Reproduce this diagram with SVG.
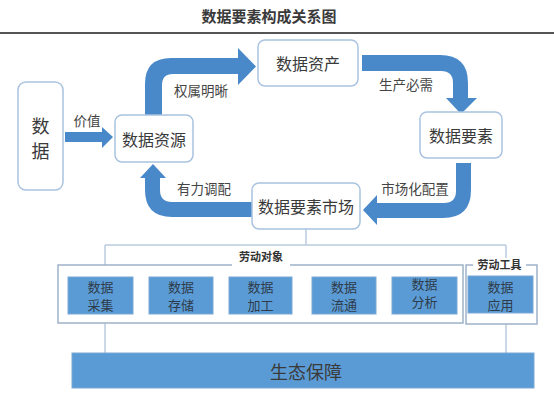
<svg xmlns="http://www.w3.org/2000/svg" width="554" height="403" viewBox="0 0 554 403">
<style>
text{font-family:"Noto Sans CJK SC","Liberation Sans",sans-serif;fill:#3a3a3a}
.node{fill:#fff;stroke:#a9c3df;stroke-width:1.5}
.t{font-size:16px;text-anchor:middle;dominant-baseline:central}
.lbl{font-size:13.5px;text-anchor:middle;dominant-baseline:central;fill:#444}
.arrow{fill:#4a89c9}
.conn{fill:none;stroke:#b9cbe0;stroke-width:1.5}
.frame{fill:none;stroke:#9fb3c8;stroke-width:1.5}
.blk{fill:#5b9bd5;stroke:#7aa7d6;stroke-width:1}
.bt{font-size:13px;text-anchor:middle;dominant-baseline:central;fill:#2e3b4a}
.leg{font-size:11px;font-weight:bold;text-anchor:middle;dominant-baseline:central;fill:#333}
</style>
<rect width="554" height="403" fill="#fff"/>
<g id="title">
<text x="269" y="15" font-size="15" font-weight="bold" text-anchor="middle" dominant-baseline="central" fill="#111">数据要素构成关系图</text>
<line x1="0" y1="33" x2="554" y2="33" stroke="#555" stroke-width="2"/>
</g>
<g id="connectors">
<path class="arrow" d="M65,132 L102,132 L102,127 L113,137 L102,148 L102,142 L65,142 Z"/>
<path class="arrow" d="M145,116 L145,84 Q145,58 171,58 L238,58 L238,48 L256,66.5 L238,85 L238,74 L173,74 Q162,74 162,85 L162,116 Z"/>
<path class="arrow" d="M362,55 L440,55 Q468,55 468,83 L468,98 L477,98 L461,114 L446,98 L453,98 L453,83 Q453,71 441,71 L362,71 Z"/>
<path class="arrow" d="M456,163 L471,163 L471,190 Q471,218 443,218 L377,218 L377,225 L363,210 L377,195 L377,203 L444,203 Q456,203 456,191 Z"/>
<path class="arrow" d="M252,202 L252,217 L172,217 Q145,217 145,190 L145,178 L140,178 L153,164 L166,178 L160,178 L160,190 Q160,202 172,202 Z"/>
<text class="lbl" x="87" y="120">价值</text>
<text class="lbl" x="201" y="90">权属明晰</text>
<text class="lbl" x="406" y="84">生产必需</text>
<text class="lbl" x="415" y="188">市场化配置</text>
<text class="lbl" x="204" y="188">有力调配</text>
<path class="conn" d="M306,229 V245 M105,245 H506 M105,245 V265 M506,245 V258 M105,323 V353 M506,324 V353"/>
</g>
<g id="n-data"><rect class="node" x="18" y="82" width="45" height="108" rx="8"/><text x="40.5" y="124.5" font-size="18" text-anchor="middle" dominant-baseline="central">数</text><text x="40.5" y="149.5" font-size="18" text-anchor="middle" dominant-baseline="central">据</text></g>
<g id="n-resource"><rect class="node" x="115" y="115" width="78" height="47" rx="7"/><text class="t" x="154" y="138.5">数据资源</text></g>
<g id="n-asset"><rect class="node" x="258" y="40" width="100" height="46" rx="7"/><text class="t" x="308" y="63">数据资产</text></g>
<g id="n-element"><rect class="node" x="420" y="112" width="82" height="46" rx="7"/><text class="t" x="461" y="135">数据要素</text></g>
<g id="n-market"><rect class="node" x="252" y="183" width="108" height="46" rx="7"/><text class="t" x="306" y="206">数据要素市场</text></g>
<g id="g-object">
<path class="frame" d="M232,265 H58 V323 H463 V265 H290"/>
<text class="leg" x="261" y="256">劳动对象</text>
</g>
<g id="g-tool">
<path class="frame" d="M473,265 H466 V324 H537 V265 H526"/>
<text class="leg" x="499.5" y="264">劳动工具</text>
</g>
<g id="b1"><rect class="blk" x="68" y="277" width="65" height="37"/><text class="bt" x="100.5" y="286.5">数据</text><text class="bt" x="100.5" y="304.5">采集</text></g>
<g id="b2"><rect class="blk" x="149" y="277" width="64" height="37"/><text class="bt" x="181" y="286.5">数据</text><text class="bt" x="181" y="304.5">存储</text></g>
<g id="b3"><rect class="blk" x="229" y="277" width="63" height="37"/><text class="bt" x="260.5" y="286.5">数据</text><text class="bt" x="260.5" y="304.5">加工</text></g>
<g id="b4"><rect class="blk" x="312" y="277" width="64" height="37"/><text class="bt" x="344" y="286.5">数据</text><text class="bt" x="344" y="304.5">流通</text></g>
<g id="b5"><rect class="blk" x="392" y="277" width="65" height="37"/><text class="bt" x="424.5" y="283.5">数据</text><text class="bt" x="424.5" y="301.5">分析</text></g>
<g id="b6"><rect class="blk" x="468" y="276" width="65" height="37"/><text class="bt" x="500.5" y="286">数据</text><text class="bt" x="500.5" y="304">应用</text></g>
<g id="n-eco"><rect class="blk" x="72" y="353" width="462" height="35"/><text x="306" y="371" font-size="18" text-anchor="middle" dominant-baseline="central" fill="#2e3b4a">生态保障</text></g>
</svg>
